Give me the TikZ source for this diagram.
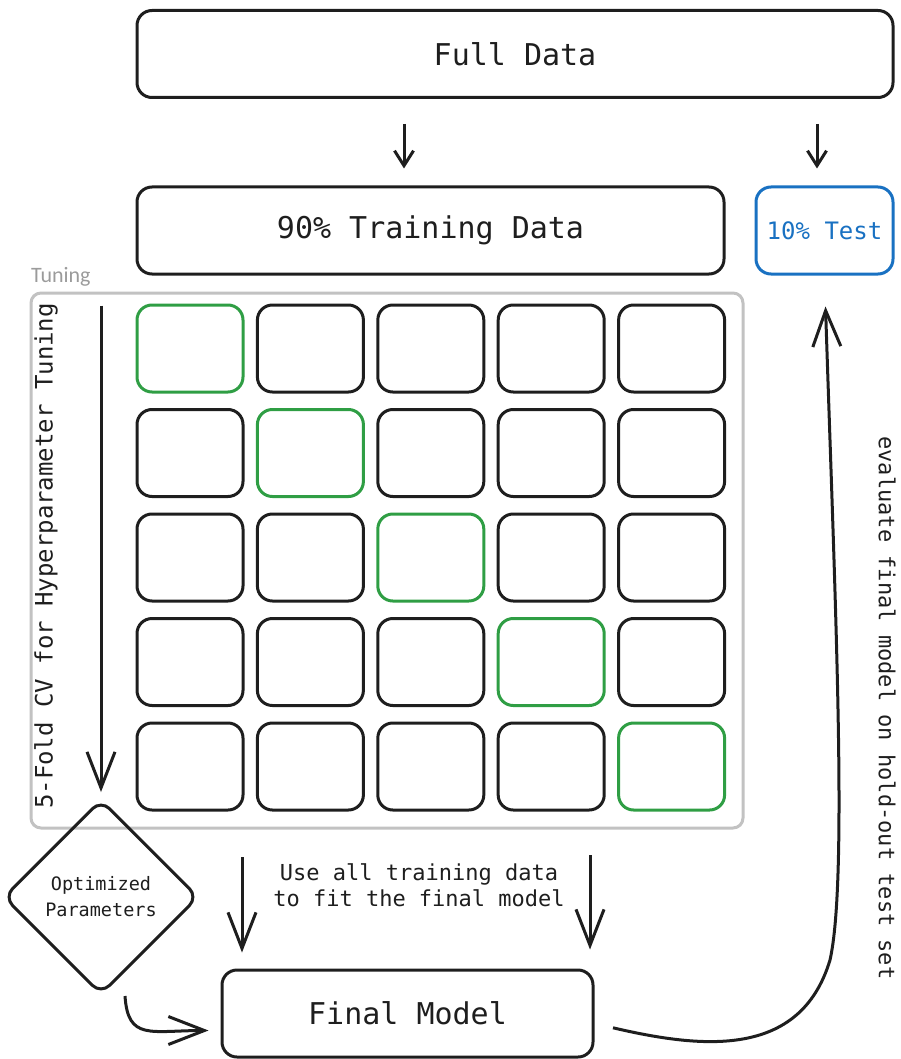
\documentclass[tikz,border=0pt]{standalone}
\usepackage{fontspec}
\setmonofont{DejaVu Sans Mono}
\newfontfamily\tagfont{Carlito}
\usepackage{tikz}
\usetikzlibrary{arrows.meta,positioning,shapes.geometric}
\definecolor{ink}{HTML}{1E1E1E}
\definecolor{fold}{HTML}{2F9E44}
\definecolor{hold}{HTML}{1971C2}
\definecolor{frame}{HTML}{C2C2C2}

\begin{document}
\begin{tikzpicture}[
    x=1pt,y=-1pt,
    box/.style={draw=ink,line width=3pt,rounded corners=15pt,minimum height=87pt,
                inner sep=0pt,font=\ttfamily\fontsize{30}{36}\selectfont,text=ink},
    cell/.style={line width=3pt,rounded corners=15pt,minimum width=106pt,
                 minimum height=87pt,inner sep=0pt},
    arrow/.style={-{Straight Barb[length=15pt,width=19pt]},line width=3pt,draw=ink},
    bigarrow/.style={-{Straight Barb[length=36pt,width=28pt]},line width=3pt,draw=ink},
    label/.style={font=\ttfamily\fontsize{22}{26}\selectfont,text=ink,align=center}
  ]
    \useasboundingbox (0,0) rectangle (901,1059);
    % data split
    \node[box,minimum width=756pt] (full) at (515,54) {Full Data};
    \node[box,minimum width=587pt] (train) at (430.5,230.5) {90\% Training Data};
    \node[box,minimum width=137pt,draw=hold,text=hold,
          font=\ttfamily\fontsize{24}{28}\selectfont] (test) at (824.5,230.5) {10\% Test};
    \draw[arrow,shorten <=25pt,shorten >=17pt]
      ([xshift=-26.5pt]train.north |- full.south) -- ([xshift=-26.5pt]train.north);
    \draw[arrow,shorten <=25pt,shorten >=17pt]
      ([xshift=-7.5pt]test.north |- full.south) -- ([xshift=-7.5pt]test.north);
    % tuning frame with the 5x5 folds
    \node[draw=frame,line width=3pt,rounded corners=10pt,minimum width=712pt,
          minimum height=535pt,inner sep=0pt] (tune) at (387,560.5) {};
    \node[font=\tagfont\fontsize{22}{26}\selectfont,text=frame!80!black,anchor=south west,
          inner sep=0pt] (tunetag) at (31,286) {Tuning};
    \foreach \r in {1,...,5}
      \foreach \c in {1,...,5}{
        \ifnum\r=\c\relax \tikzset{cur/.style={draw=fold}}\else \tikzset{cur/.style={draw=ink}}\fi
        \node[cell,cur] (c\r\c) at ({190+120.4*(\c-1)},{348.5+104.5*(\r-1)}) {};
      }
    \node[label,rotate=90,font=\ttfamily\fontsize{24}{28}\selectfont] (cvtext) at (46,556)
      {5-Fold CV for Hyperparameter Tuning};
    % outcome of tuning
    \node[diamond,draw=ink,line width=3pt,rounded corners=12pt,minimum size=195pt,
          inner sep=0pt,aspect=1,label] (opt) at (101,897)
      {\fontsize{18.5}{24}\selectfont Optimized\\\fontsize{18.5}{24}\selectfont Parameters};
    \draw[bigarrow,shorten <=2pt,shorten >=6pt] (opt.north |- c11.north) -- (opt.north);
    % final fit
    \node[box,minimum width=371pt] (final) at (407.5,1013.5) {Final Model};
    \coordinate (fitL) at (242,857);
    \coordinate (fitR) at (590,855);
    \draw[bigarrow,shorten >=16pt] (fitL) -- (fitL |- final.north);
    \draw[bigarrow,shorten >=19pt] (fitR) -- (fitR |- final.north);
    \node[label] (fittext) at (419,885) {Use all training data\\to fit the final model};
    \draw[bigarrow,shorten >=12pt] ([xshift=24pt]opt.south)
      .. controls +(3,45) and +(-70,0) .. ([yshift=-17pt]final.west);
    % evaluation on the hold-out part
    \draw[bigarrow,shorten <=19pt,shorten >=31pt] ([yshift=-10pt]final.east)
      .. controls (700,1048) and (800,1060) .. (830,960)
      .. controls (848,880) and (835,600) .. (test.south);
    \node[label,rotate=-90] (evaltext) at (887,708) {evaluate final model on hold-out test set};
  \end{tikzpicture}
\end{document}
